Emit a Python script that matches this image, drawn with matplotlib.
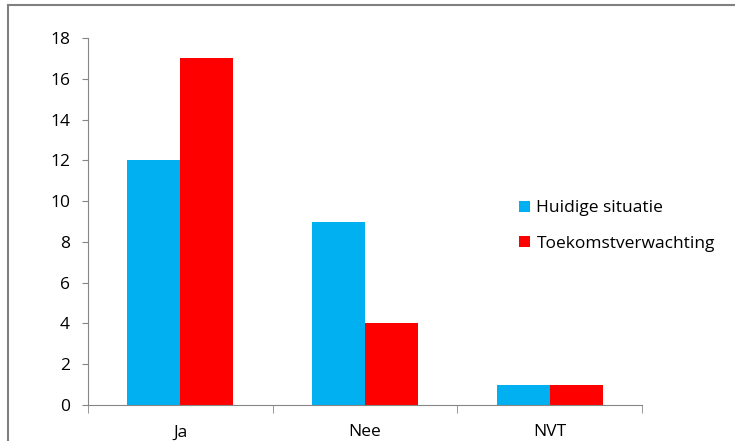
import matplotlib.pyplot as plt
import numpy as np
from matplotlib.patches import Rectangle

categorieen = ['Ja', 'Nee', 'NVT']
huidig = [12, 9, 1]
toekomst = [17, 4, 1]
reeksen = ['Huidige situatie', 'Toekomstverwachting']

plt.rcParams['font.family'] = ['Open Sans', 'DejaVu Sans']

fig = plt.figure(figsize=(7.35, 4.41), dpi=100)
ax = fig.add_axes([88 / 735, 1 - 405 / 441, (642 - 88) / 735, (405 - 38) / 441])

# kader rond de grafiek
fig.patches.append(Rectangle((8 / 735, -0.1), 1.2, 1 - 5 / 441 + 0.1, transform=fig.transFigure,
                             fill=False, edgecolor='#808080', linewidth=1.5))

x = np.arange(len(categorieen))
b = 0.287
ax.bar(x - b / 2, huidig, b, color='#00B0F0', label=reeksen[0])
ax.bar(x + b / 2, toekomst, b, color='#FF0000', label=reeksen[1])

ax.set_xlim(-0.5, 2.5)
ax.set_ylim(0, 18)
ax.set_yticks(range(0, 19, 2))
ax.set_xticks(x)
ax.set_xticklabels(categorieen)
ax.set_xticks([-0.5, 0.5, 1.5, 2.5], minor=True)
ax.tick_params(axis='x', which='major', length=0, pad=14, labelsize=12.5)
ax.tick_params(axis='x', which='minor', length=6, color='#868686')
ax.tick_params(axis='y', length=4, color='#868686', labelsize=12.5, pad=9)
for s in ['top', 'right']:
    ax.spines[s].set_visible(False)
for s in ['left', 'bottom']:
    ax.spines[s].set_color('#868686')

ax.legend(loc='upper left', bbox_to_anchor=(0.75, 0.6), frameon=False, fontsize=12.5,
          handlelength=0.6, handleheight=0.6, handletextpad=0.4, labelspacing=1.1)

fig.savefig('out.png', dpi=100)
